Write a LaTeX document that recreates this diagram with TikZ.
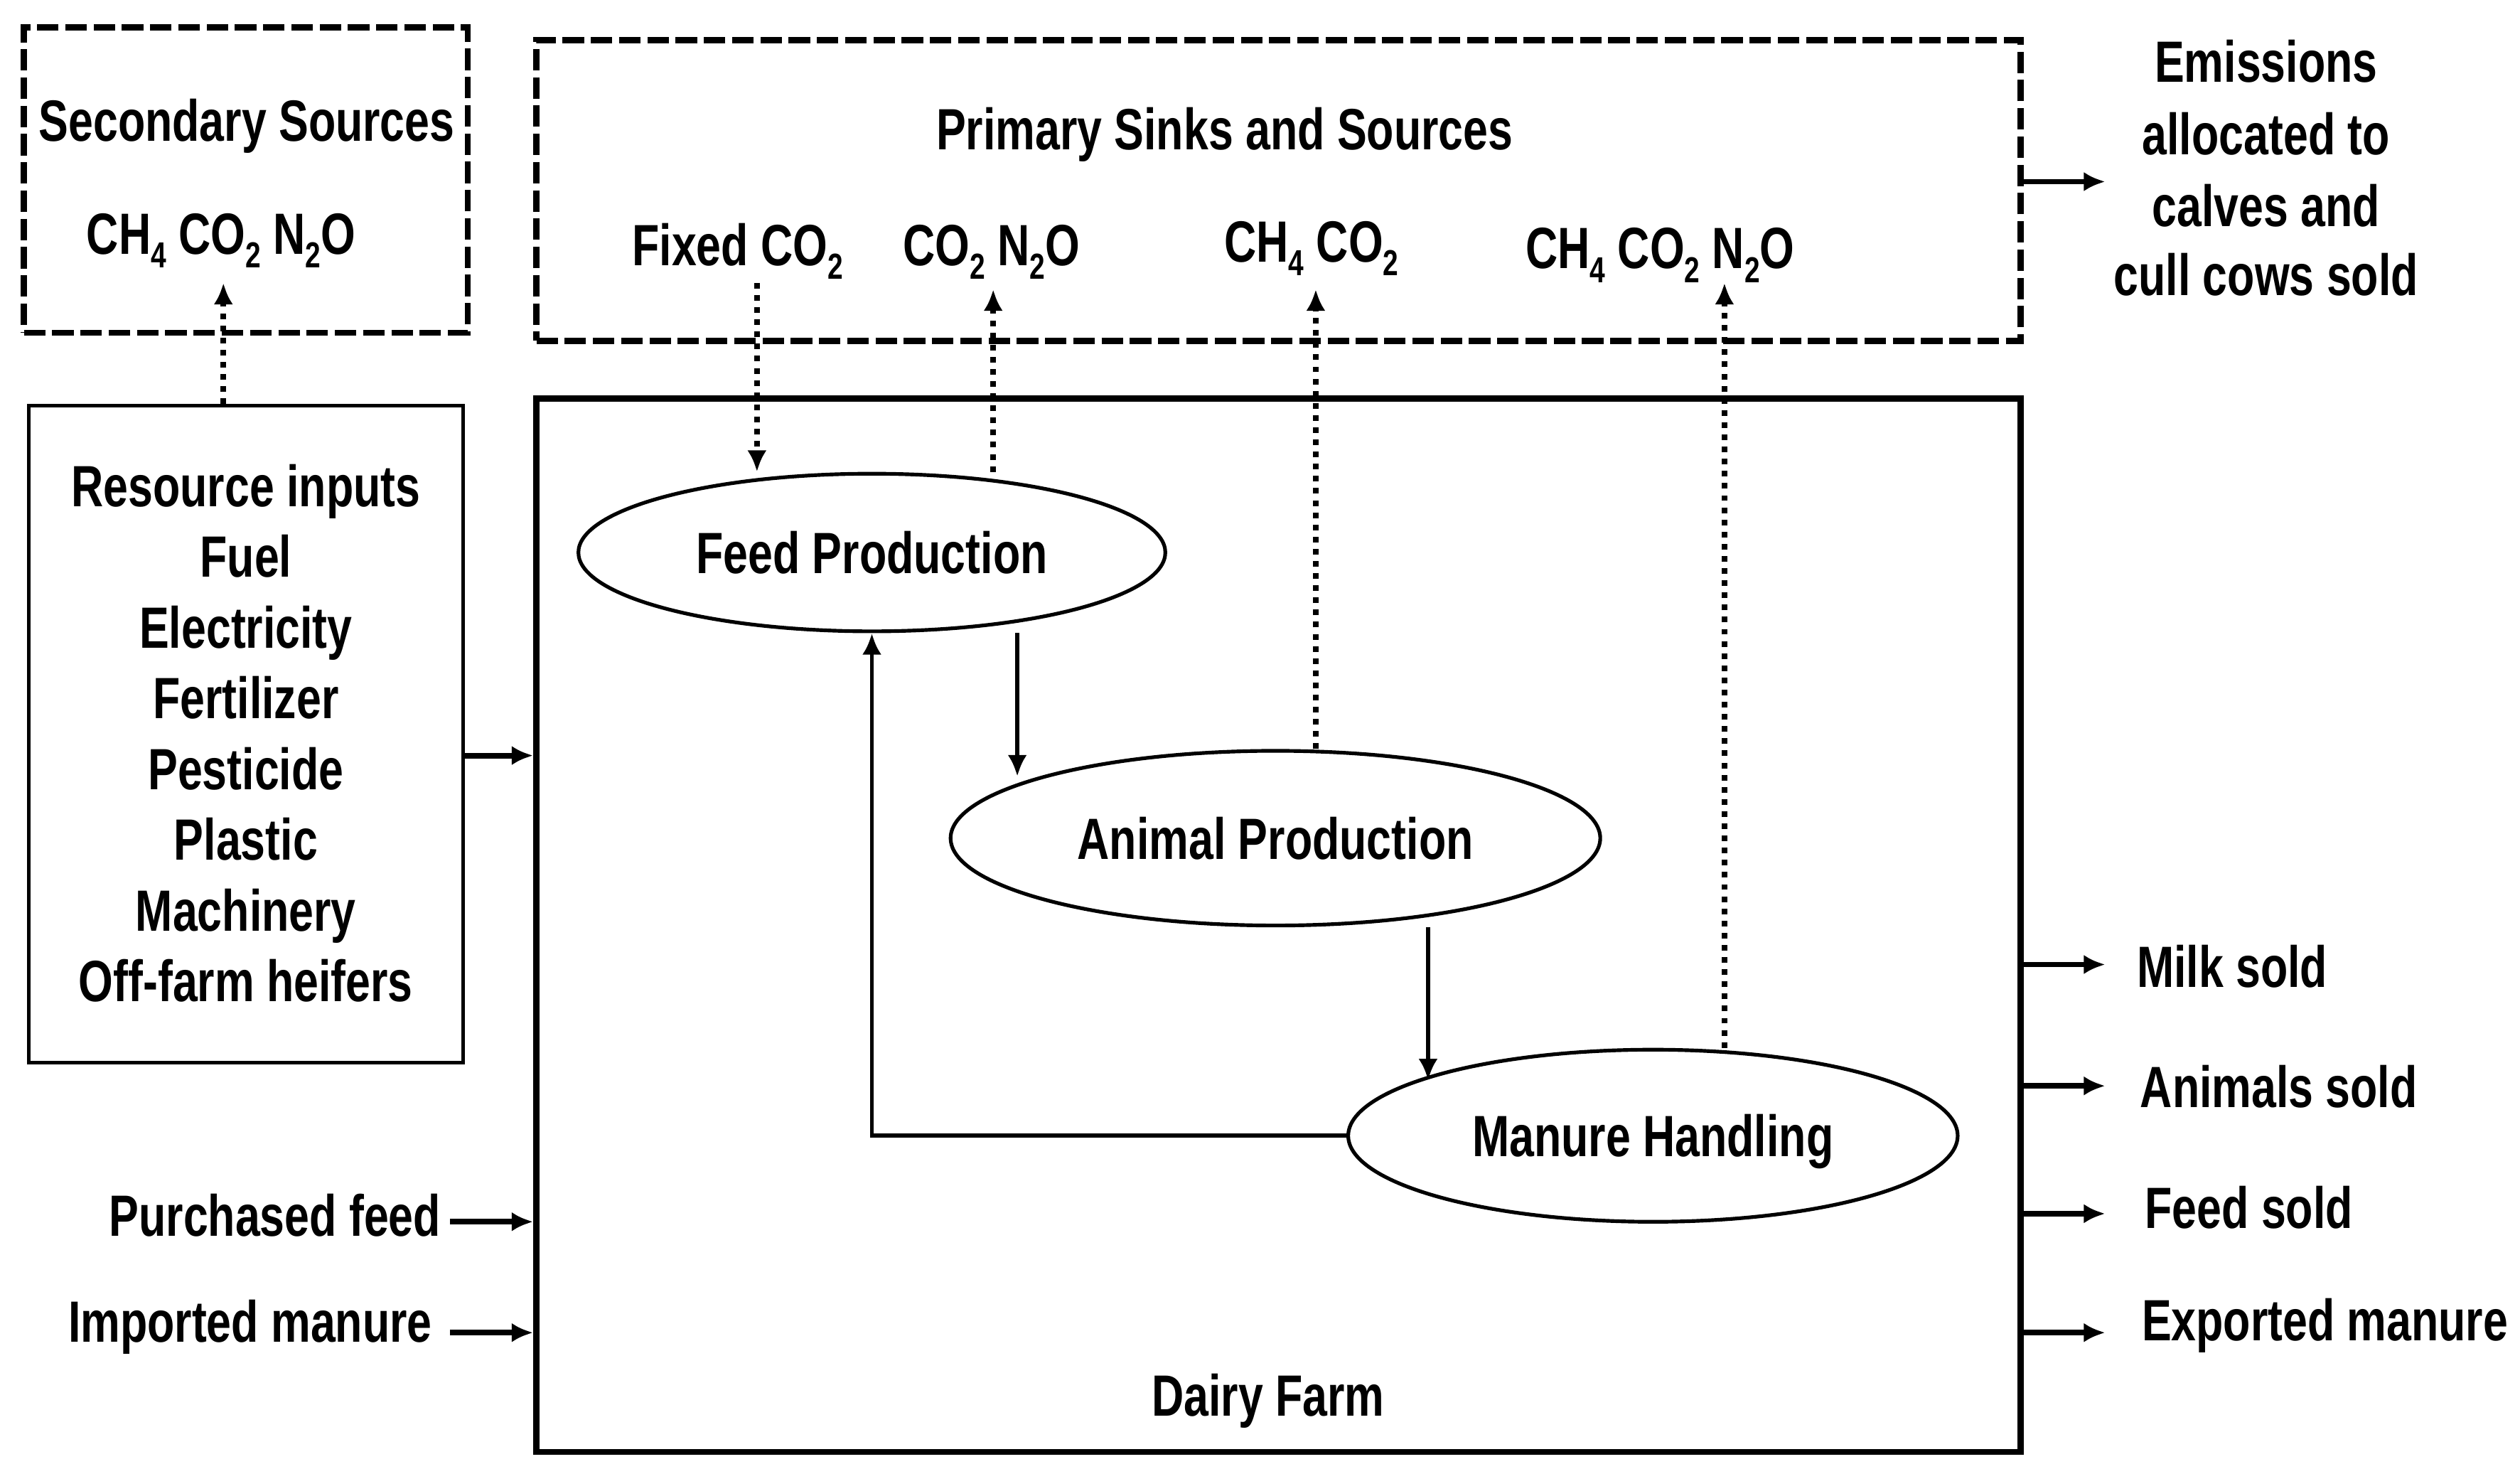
\documentclass[tikz,border=0pt]{standalone}
\usepackage{fontspec}
\setmainfont{Liberation Sans}[FakeStretch=0.765]
\usetikzlibrary{shapes.geometric,arrows.meta}
\newcommand\subs[1]{\raisebox{-0.45ex}{\fontsize{6.4}{6}\selectfont #1}}

\begin{document}
\begin{tikzpicture}[x=0.01cm,y=-0.01cm,>={Latex[length=3.8pt,width=3.4pt]},
  every node/.style={font=\fontsize{10.3}{12.5}\selectfont\bfseries,inner sep=0pt},
  dashbox/.style={draw,line width=1.1pt,dash pattern=on 3.8pt off 1.2pt},
  dotline/.style={line width=0.95pt,dash pattern=on 1pt off 1.15pt},
  proc/.style={draw,ellipse,line width=0.65pt,text height=7.4pt,text depth=0pt},
  flow/.style={->,line width=1pt},
  inner/.style={->,line width=0.75pt}]
\useasboundingbox (0,0) rectangle (1568,913.8);
% boxes
\node[dashbox,minimum width=2.76cm,minimum height=1.9cm] (sec) at (153,112) {};
\node[dashbox,minimum width=9.23cm,minimum height=1.87cm] (prim) at (795.5,118.5) {};
\node[draw,line width=0.6pt,minimum width=2.7cm,minimum height=4.085cm] (res) at (153,456.75) {};
\node[draw,line width=1.1pt,minimum width=9.23cm,minimum height=6.55cm] (farm) at (795.5,575.5) {};
% processes
\node[proc,minimum width=3.65cm,minimum height=0.98cm] (feed) at (542.5,343.7) {Feed Production};
\node[proc,minimum width=4.04cm,minimum height=1.086cm] (anim) at (793.6,521.4) {Animal Production};
\node[proc,minimum width=3.79cm,minimum height=1.07cm] (man) at (1028.5,706.5) {Manure Handling};
% texts
\node[anchor=base] (sectitle) at (153.5,88) {Secondary Sources};
\node[anchor=base] (secgas) at (137.5,158) {CH\subs4 CO\subs2 N\subs2O};
\node[anchor=base] (primtitle) at (762,93) {Primary Sinks and Sources};
\node[anchor=base] (gfix) at (459,165) {Fixed CO\subs2};
\node[anchor=base] (gfeed) at (617,165) {CO\subs2 N\subs2O};
\node[anchor=base] (ganim) at (816,163) {CH\subs4 CO\subs2};
\node[anchor=base] (gman) at (1033,167) {CH\subs4 CO\subs2 N\subs2O};
\foreach \t [count=\i] in {Resource inputs,Fuel,Electricity,Fertilizer,Pesticide,Plastic,Machinery,Off-farm heifers}
  \node[anchor=base] (r\i) at (153,{315+44*(\i-1)}) {\t};
\foreach \t/\y [count=\i] in {Emissions/51,allocated to/96,calves and/141,cull cows sold/184}
  \node[anchor=base] (e\i) at (1410,\y) {\t};
\node[anchor=base] (dairy) at (789,881) {Dairy Farm};
\node[anchor=base east] (pfeed) at (275,769) {Purchased feed};
\node[anchor=base east] (pman) at (269.5,835) {Imported manure};
\node[anchor=base west] (milk) at (1329,614) {Milk sold};
\node[anchor=base west] (animals) at (1331,689) {Animals sold};
\node[anchor=base west] (fsold) at (1334,764) {Feed sold};
\node[anchor=base west] (expman) at (1332,834) {Exported manure};
% dotted emission arrows
\coordinate (d0) at (139,176);
\coordinate (d1) at (471,176);
\coordinate (d2) at (618,180);
\coordinate (d3) at (818.7,180);
\coordinate (d4) at (1073,176);
\draw[dotline,->] (res.north -| d0) -- (d0);
\draw[dotline,->] (d1) -- (d1 |- feed.north);
\draw[dotline,->] (d2 |- feed.north) -- (d2);
\draw[dotline,->] (d3 |- anim.north) -- (d3);
\draw[dotline,->] (d4 |- man.north) -- (d4);
% flows inside the farm
\coordinate (a1) at (633,483);
\coordinate (a2) at (888.6,672);
\draw[inner] (a1 |- feed.south) -- (a1);
\draw[inner] (a2 |- anim.south) -- (a2);
\draw[inner] (man.west) -| (feed.south);
% inputs and outputs
\coordinate (ri) at (288,470);
\coordinate (pf) at (280,760);
\coordinate (im) at (280,829);
\coordinate (pe) at (1310,113);
\draw[flow] (ri) -- (ri -| farm.west);
\draw[flow] (pf) -- (pf -| farm.west);
\draw[flow] (im) -- (im -| farm.west);
\draw[flow] (pe -| prim.east) -- (pe);
\foreach \y [count=\i] in {600,675.5,755,829}
  \draw[flow] (farm.east |- 0,\y) coordinate (o\i) -- (1310,\y);
\end{tikzpicture}
\end{document}
